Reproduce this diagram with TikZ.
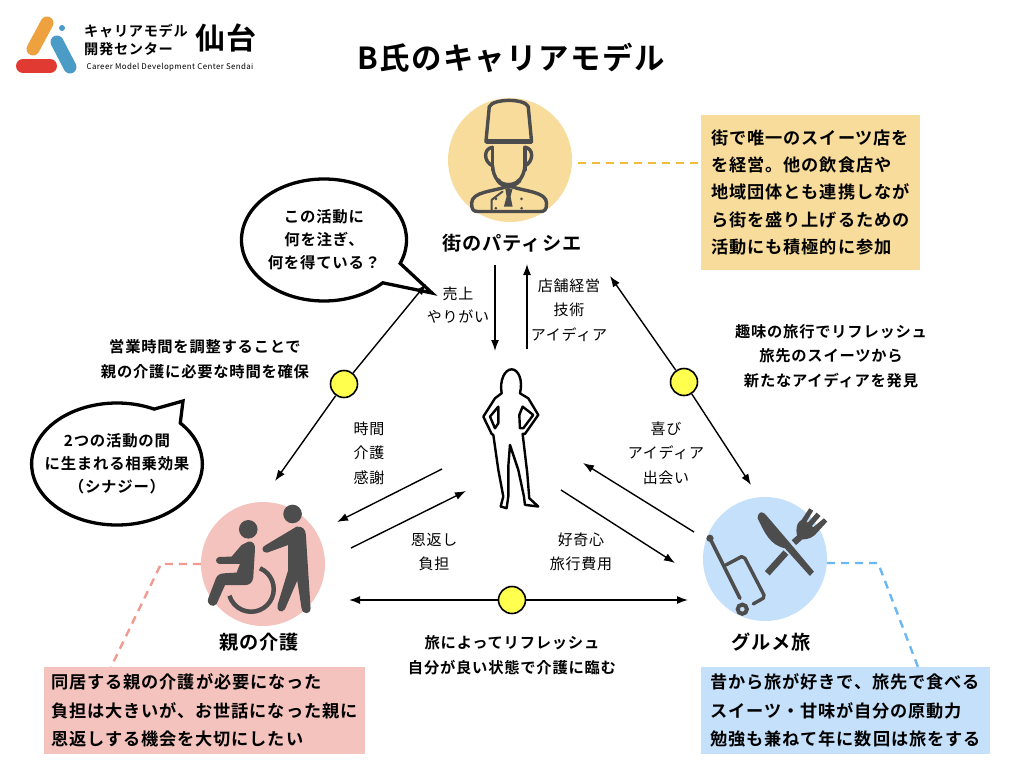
\documentclass[tikz,border=0pt]{standalone}
\usepackage{fontspec}
\usepackage{tikz}
\usetikzlibrary{arrows.meta,positioning,shapes.geometric,shapes.callouts}
\newfontfamily\jp{Noto Sans CJK JP}[LetterSpace=5]
\newfontfamily\jpb{Noto Sans CJK JP Bold}[LetterSpace=5]
\definecolor{goldpale}{RGB}{248,220,155}
\definecolor{gold}{RGB}{240,187,60}
\definecolor{pinkpale}{RGB}{244,195,189}
\definecolor{pink}{RGB}{240,154,144}
\definecolor{bluepale}{RGB}{197,224,251}
\definecolor{skyblue}{RGB}{108,184,245}
\definecolor{icongray}{RGB}{77,77,77}
\definecolor{junction}{RGB}{255,255,77}
\definecolor{logoorange}{RGB}{237,161,63}
\definecolor{logoblue}{RGB}{74,156,199}
\definecolor{logored}{RGB}{224,58,51}
\begin{document}
\begin{tikzpicture}[x=1pt,y=-1pt,>={Latex[length=11pt,width=8pt]},node distance=4pt,
  every node/.style={align=center,inner sep=0pt},
  thinlabel/.style={font=\jp\fontsize{15}{24.5}\selectfont},
  boldlabel/.style={font=\jpb\fontsize{15.3}{24.5}\selectfont},
  namelabel/.style={font=\jpb\fontsize{19.2}{24}\selectfont},
  boxlabel/.style={font=\jpb\fontsize{17.2}{28.5}\selectfont,align=left},
  disc/.style={circle,minimum size=124pt},
  bubble/.style={ellipse callout,draw,line width=3.3pt,fill=white,minimum width=165pt,minimum height=122pt,
    callout pointer arc=22,font=\jpb\fontsize{15.4}{23}\selectfont},
  link/.style={->,line width=1.4pt},
  junc/.style={circle,draw,line width=1.6pt,fill=junction,minimum size=27pt},
  icon/.style={line width=3.4pt,draw=icongray,line cap=round,line join=round},
  leader/.style={line width=2.4pt,dash pattern=on 8pt off 6pt}]
  \useasboundingbox (0,0) rectangle (1024,768);

  \draw[logoorange,line width=13pt,line cap=round] (47,23) -- (33,49);
  \fill[logoblue] (62,28) circle (3pt);
  \draw[logoblue,line width=13pt,line cap=round] (57,42) -- (70,67);
  \draw[logored,line width=14pt,line cap=round] (23,66) -- (50,66);
  \node[anchor=west,font=\jpb\fontsize{14.2}{18}\selectfont] (logoa) at (84,31) {キャリアモデル};
  \node[anchor=west,font=\jpb\fontsize{14.2}{18}\selectfont] (logob) at (84,49) {開発センター};
  \node[font=\jpb\fontsize{30}{32}\selectfont] (logoc) at (226,38) {仙台};
  \node[font=\jp\fontsize{7.9}{9}\selectfont] (logod) at (170,67) {Career Model Development Center Sendai};
  \node[font=\jpb\fontsize{30.4}{36}\selectfont] (title) at (511,58) {B氏のキャリアモデル};

  \node[disc,fill=goldpale] (chef) at (510,160) {};
  \node[disc,fill=pinkpale] (care) at (263,564) {};
  \node[disc,fill=bluepale] (trip) at (765,559) {};
  \node[namelabel] (chefname) at (512,243) {街のパティシエ};
  \node[namelabel] (carename) at (259,642) {親の介護};
  \node[namelabel] (tripname) at (771,642) {グルメ旅};

  \node[fill=goldpale,minimum width=219pt,minimum height=155pt,boxlabel,font=\jpb\fontsize{17.2}{27.2}\selectfont] (chefbox) at (810.5,192.5)
    {街で唯一のスイーツ店を\\を経営。他の飲食店や\\地域団体とも連携しなが\\ら街を盛り上げるための\\活動にも積極的に参加};
  \node[fill=pinkpale,minimum width=321pt,minimum height=87pt,boxlabel] (carebox) at (204.5,710.5)
    {同居する親の介護が必要になった\\負担は大きいが、お世話になった親に\\恩返しする機会を大切にしたい};
  \node[fill=bluepale,minimum width=289pt,minimum height=87pt,boxlabel] (tripbox) at (845.5,710.5)
    {昔から旅が好きで、旅先で食べる\\スイーツ・甘味が自分の原動力\\勉強も兼ねて年に数回は旅をする};
  \coordinate (chefjoin) at (701,163);
  \coordinate (carebend) at (161,564);
  \coordinate (carefoot) at (111,667);
  \coordinate (tripbend) at (878,563);
  \coordinate (tripfoot) at (918,667);
  \draw[leader,gold,shorten <=6pt] (chef.east |- chefjoin) -- (chefjoin);
  \draw[leader,pink] (care.west) -- (carebend) -- (carefoot);
  \draw[leader,skyblue] (trip.east |- tripbend) -- (tripbend) -- (tripfoot);

  \node[bubble,callout absolute pointer={(432,293)}] (askbubble) at (324,240) {この活動に\\何を注ぎ、\\何を得ている？};
  \node[bubble,inner xsep=-12pt,inner ysep=-6pt,callout absolute pointer={(183,401)}] (synbubble) at (117,464) {2つの活動の間\\に生まれる相乗効果\\（シナジー）};

  \node[junc] (jleft) at (344,384) {};
  \node[junc] (jright) at (684,382) {};
  \node[junc] (jbottom) at (512,600) {};
  \coordinate (leftup) at (426,284);
  \coordinate (leftdown) at (275,481);
  \coordinate (rightup) at (610,276);
  \coordinate (rightdown) at (751,485);
  \coordinate (bottomleft) at (349,600);
  \coordinate (bottomright) at (688,600);
  \draw[link] (jleft) -- (leftup);
  \draw[link] (jleft) -- (leftdown);
  \draw[link] (jright) -- (rightup);
  \draw[link] (jright) -- (rightdown);
  \draw[link] (jbottom) -- (bottomleft);
  \draw[link] (jbottom) -- (bottomright);

  \coordinate (downa) at (495,265);
  \coordinate (downb) at (495,351);
  \coordinate (upa) at (527,349);
  \coordinate (upb) at (527,264);
  \coordinate (toa) at (442,469);
  \coordinate (tob) at (337,522);
  \coordinate (froma) at (351,548);
  \coordinate (fromb) at (466,491);
  \coordinate (gotoa) at (561,490);
  \coordinate (gotob) at (675,563);
  \coordinate (backa) at (694,532);
  \coordinate (backb) at (583,463);
  \draw[link] (downa) -- (downb);
  \draw[link] (upa) -- (upb);
  \draw[link] (toa) -- (tob);
  \draw[link] (froma) -- (fromb);
  \draw[link] (gotoa) -- (gotob);
  \draw[link] (backa) -- (backb);

  \node[thinlabel,font=\jp\fontsize{15}{23}\selectfont] (gain) at (458,305) {売上\\やりがい};
  \node[thinlabel] (give) at (569,310) {店舗経営\\技術\\アイディア};
  \node[thinlabel] (time) at (369,453) {時間\\介護\\感謝};
  \node[thinlabel] (debt) at (434,552) {恩返し\\負担};
  \node[thinlabel] (cost) at (581,552) {好奇心\\旅行費用};
  \node[thinlabel] (joy) at (666,453) {喜び\\アイディア\\出会い};
  \node[boldlabel] (refresh) at (512,655) {旅によってリフレッシュ\\自分が良い状態で介護に臨む};
  \node[boldlabel] (idea) at (831,356) {趣味の旅行でリフレッシュ\\旅先のスイーツから\\新たなアイディアを発見};
  \node[boldlabel] (hours) at (205,359) {営業時間を調整することで\\親の介護に必要な時間を確保};

  \begin{scope}[shift={(430,90)},x=0.333pt,y=-0.333pt]
    \draw[icon] (168,155) -- (178,50) .. controls (190,25) and (285,25) .. (295,50) -- (305,155) -- cycle;
    \draw[icongray,line width=5pt] (168,156) -- (305,156);
    \draw[icon] (188,172) .. controls (160,175) and (160,215) .. (188,228) .. controls (190,265) and (210,285) .. (235,292) .. controls (260,285) and (282,265) .. (285,228) .. controls (312,215) and (312,175) .. (285,172);
    \draw[icon] (188,172) -- (188,240);
    \draw[icon] (285,172) -- (285,240);
    \draw[icon,line width=4.5pt] (205,272) .. controls (215,290) and (255,290) .. (268,272);
    \draw[icon] (230,290) .. controls (190,305) and (125,305) .. (125,340) .. controls (125,360) and (130,365) .. (145,365) -- (330,365) .. controls (345,365) and (350,360) .. (350,340) .. controls (350,305) and (285,305) .. (245,290);
    \draw[icon,line width=2pt] (218,305) -- (185,330) -- (185,362);
    \fill[icongray] (226,296) -- (248,296) -- (242,320) -- (248,350) -- (222,350) -- (230,320) -- cycle;
    \foreach \bx/\by in {198/327,198/355,275/327,275/355}
      \fill[icongray] (\bx,\by) circle (1.5pt);
  \end{scope}

  \begin{scope}[shift={(190,490)},x=0.333pt,y=-0.333pt]
    \fill[icongray] (308,72) circle (9.3pt);
    \fill[icongray] (175,118) circle (9.3pt);
    \fill[icongray] (320,110) .. controls (340,108) and (347,120) .. (348,135) -- (362,355) .. controls (362,375) and (338,375) .. (335,355) -- (322,272) -- (285,358) .. controls (275,372) and (258,362) .. (263,345) -- (295,240) -- (295,165) -- (232,188) .. controls (215,190) and (212,170) .. (228,165) -- (295,125) -- cycle;
    \fill[icongray] (175,155) .. controls (190,152) and (197,165) .. (195,180) -- (190,262) .. controls (188,280) and (178,286) .. (160,286) -- (105,286) -- (80,342) .. controls (70,355) and (48,345) .. (55,325) -- (78,265) .. controls (82,255) and (92,250) .. (105,250) -- (140,248) -- (150,222) -- (88,222) .. controls (75,220) and (75,203) .. (88,201) -- (125,200) -- (155,165) -- cycle;
    \draw[icongray,line width=4.5pt] (210,235) arc[start angle=-67,end angle=163,x radius=68,y radius=68];
  \end{scope}

  \begin{scope}[shift={(690,490)},x=0.333pt,y=-0.333pt]
    \draw[icon,line width=3.6pt] (60,145) -- (150,325);
    \fill[icongray] (60,145) circle (3.6pt);
    \draw[icon] (108,225) -- (155,200) -- (165,205) -- (222,315) -- (220,325) -- (190,342);
    \draw[icongray,line width=4pt] (157,358) circle (4.6pt);
    \fill[icongray] (203,85) .. controls (205,60) and (220,65) .. (228,75) -- (305,165) -- (372,245) -- (360,258) -- (285,175) .. controls (240,165) and (225,130) .. (203,85) -- cycle;
    \draw[icongray,line width=6.5pt] (232,250) -- (288,188);
    \draw[icongray,line width=6.5pt] (312,158) -- (330,142);
    \fill[icongray] (320,130) .. controls (318,105) and (325,95) .. (335,90) -- (358,55) -- (370,62) -- (350,95) -- (354,98) -- (380,68) -- (392,78) -- (366,108) -- (370,112) -- (402,85) -- (412,95) -- (375,135) .. controls (362,148) and (340,150) .. (325,148) -- cycle;
  \end{scope}

  \begin{scope}[shift={(470,360)},x=0.333pt,y=-0.333pt]
    \draw[line width=2.4pt,line join=round,fill=white] (95,100) .. controls (88,60) and (105,28) .. (125,28) .. controls (145,28) and (160,60) .. (150,100) -- (175,115) -- (205,165) -- (165,222) -- (158,222) -- (172,340) -- (178,415) -- (205,440) -- (165,435) -- (162,410) -- (145,330) -- (120,255) -- (115,320) -- (115,410) -- (110,445) -- (92,440) -- (100,410) -- (85,330) -- (70,225) -- (65,222) -- (40,170) -- (75,115) -- cycle;
    \draw[line width=2.4pt,line join=round] (85,140) -- (60,170) -- (75,205) -- (85,190) -- cycle;
    \draw[line width=2.4pt,line join=round] (158,140) -- (148,165) -- (150,205) -- (160,205) -- (190,165) -- cycle;
  \end{scope}
\end{tikzpicture}
\end{document}
